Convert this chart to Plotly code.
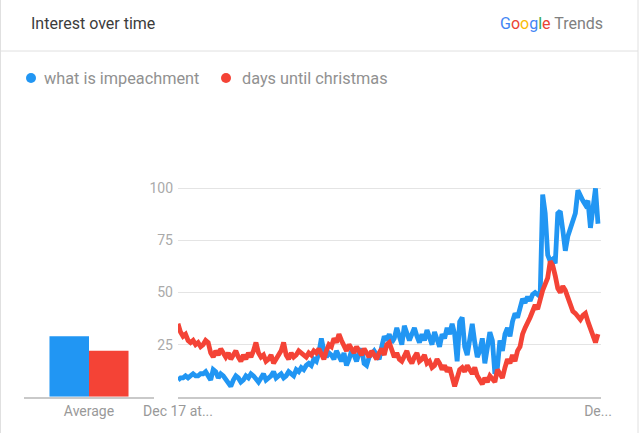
import plotly.graph_objects as go

W, H = 640, 433

series_names = ["what is impeachment", "days until christmas"]
colors = ["#2196F3", "#F44336"]

impeachment = [
    8, 9, 9, 10, 9, 10, 11, 10, 10, 11,
    11, 12, 10, 8, 13, 12, 9, 11, 10, 8,
    7, 5, 8, 10, 9, 7, 8, 10, 9, 11,
    10, 8, 7, 9, 11, 8, 9, 10, 12, 9,
    10, 11, 9, 10, 12, 11, 10, 13, 12, 14,
    13, 15, 16, 15, 18, 17, 21, 28, 22, 19,
    21, 20, 18, 22, 19, 17, 21, 15, 18, 22,
    20, 17, 21, 23, 16, 15, 19, 21, 22, 20,
    18, 24, 29, 27, 30, 26, 28, 33, 29, 25,
    34, 31, 27, 30, 33, 29, 26, 30, 27, 32,
    28, 25, 31, 27, 24, 30, 28, 33, 30, 35,
    30, 17, 36, 38, 24, 20, 29, 35, 26, 19,
    22, 28, 16, 24, 31, 27, 11, 14, 27, 22,
    30, 33, 29, 36, 40, 38, 43, 47, 45, 48,
    46, 49, 50, 49, 48, 97, 88, 68, 65, 66,
    64, 88, 89, 80, 70, 77, 81, 84, 88, 99,
    96, 94, 92, 94, 81, 90, 100, 83,
]

christmas = [
    35, 31, 29, 30, 27, 26, 27, 25, 26, 24,
    25, 27, 26, 21, 19, 22, 20, 23, 21, 19,
    21, 18, 20, 22, 19, 17, 20, 18, 21, 19,
    22, 26, 21, 19, 20, 17, 18, 20, 16, 18,
    19, 22, 26, 20, 18, 21, 19, 20, 22, 21,
    20, 19, 21, 20, 22, 21, 23, 20, 18, 22,
    25, 24, 28, 26, 30, 27, 24, 22, 25, 23,
    21, 24, 22, 20, 23, 21, 19, 22, 20, 18,
    21, 23, 20, 25, 26, 22, 19, 21, 18, 17,
    20, 22, 18, 16, 19, 21, 17, 18, 20, 16,
    17, 14, 15, 18, 16, 13, 15, 12, 14, 9,
    5, 9, 13, 14, 12, 15, 13, 11, 14, 10,
    8, 6, 9, 7, 10, 8, 7, 13, 11, 9,
    14, 18, 16, 20, 17, 22, 24, 30, 33, 35,
    38, 41, 44, 42, 47, 51, 54, 57, 65, 63,
    58, 52, 50, 53, 51, 48, 44, 41, 40, 38,
    37, 39, 40, 36, 33, 30, 26, 30,
]

averages = [29, 22]
avg_label = ["Average"]
y_ticks = [25, 50, 75, 100]
x_tick_text = ["Dec 17 at...", "De..."]

n = len(impeachment)
idx = list(range(n))

def px(x):
    return x / W

def py(y):
    return 1 - y / H

y_dom = [py(396.7), py(396.7 - 2.084 * 102)]

fig = go.Figure()

for name, vals, col in zip(series_names, [impeachment, christmas], colors):
    fig.add_trace(go.Scatter(
        x=idx, y=vals, mode="lines", name=name,
        line=dict(color=col, width=4.8, shape="linear"),
        xaxis="x", yaxis="y", showlegend=False, hoverinfo="skip",
    ))

for name, v, col in zip(series_names, averages, colors):
    fig.add_trace(go.Bar(
        x=avg_label, y=[v], name=name, marker=dict(color=col, line=dict(width=0)),
        xaxis="x2", yaxis="y2", showlegend=False, hoverinfo="skip",
    ))

font_main = "Roboto, Arial, sans-serif"

fig.update_layout(
    width=W, height=H,
    margin=dict(l=0, r=0, t=0, b=0, pad=0, autoexpand=False),
    showlegend=False,
    paper_bgcolor="white", plot_bgcolor="rgba(0,0,0,0)",
    font=dict(family=font_main),
    barmode="group", bargap=0.392, bargroupgap=0,
    xaxis=dict(
        domain=[px(178), px(601)], range=[0, (n - 1) * 423 / 420],
        tickvals=[0, n - 1], ticktext=x_tick_text, automargin=False,
        showgrid=False, zeroline=False, showline=True, linecolor="#c9c9c9", linewidth=2,
        ticks="", tickfont=dict(size=14, color="#999999"), anchor="y",
    ),
    yaxis=dict(
        domain=y_dom, range=[0, 102], tickvals=y_ticks, automargin=False,
        showgrid=True, gridcolor="#e4e4e4", gridwidth=1, zeroline=False,
        showline=False, ticks="", tickfont=dict(size=14, color="#aaaaaa"),
        ticklabelstandoff=4, anchor="x",
    ),
    xaxis2=dict(
        domain=[px(24), px(154)], showgrid=False, zeroline=False, automargin=False,
        showline=True, linecolor="#c9c9c9", linewidth=2, ticks="",
        tickfont=dict(size=14, color="#999999"), anchor="y2",
    ),
    yaxis2=dict(
        domain=y_dom, range=[0, 102], visible=False, anchor="x2", automargin=False,
    ),
)

shapes = [
    dict(type="line", xref="paper", yref="paper", x0=0, x1=px(638), y0=py(51), y1=py(51),
         line=dict(color="#e0e0e0", width=1)),
    dict(type="line", xref="paper", yref="paper", x0=px(0.5), x1=px(0.5), y0=0, y1=1,
         line=dict(color="#e0e0e0", width=1)),
    dict(type="line", xref="paper", yref="paper", x0=px(638), x1=px(638), y0=0, y1=1,
         line=dict(color="#e0e0e0", width=1)),
]
for cx, col in [(31, colors[0]), (226, colors[1])]:
    shapes.append(dict(type="circle", xref="paper", yref="paper",
                       x0=px(cx - 5), x1=px(cx + 5), y0=py(78 + 5), y1=py(78 - 5),
                       fillcolor=col, line=dict(width=0)))
fig.update_layout(shapes=shapes)

google = ('<span style="color:#4285F4">G</span><span style="color:#EA4335">o</span>'
          '<span style="color:#FBBC05">o</span><span style="color:#4285F4">g</span>'
          '<span style="color:#34A853">l</span><span style="color:#EA4335">e</span>'
          '<span style="color:#808080"> Trends</span>')

annotations = [
    dict(text="Interest over time", x=px(29), y=py(23), xref="paper", yref="paper",
         xanchor="left", yanchor="middle", showarrow=False,
         font=dict(size=16, color="#3c3c3c", family=font_main)),
    dict(text=google, x=px(605), y=py(24), xref="paper", yref="paper",
         xanchor="right", yanchor="middle", showarrow=False,
         font=dict(size=16, family=font_main)),
    dict(text=series_names[0], x=px(42), y=py(78), xref="paper", yref="paper",
         xanchor="left", yanchor="middle", showarrow=False,
         font=dict(size=16.3, color="#919191", family=font_main)),
    dict(text=series_names[1], x=px(240), y=py(78), xref="paper", yref="paper",
         xanchor="left", yanchor="middle", showarrow=False,
         font=dict(size=16.3, color="#919191", family=font_main)),
]
fig.update_layout(annotations=annotations)

fig.write_html("out.html")
